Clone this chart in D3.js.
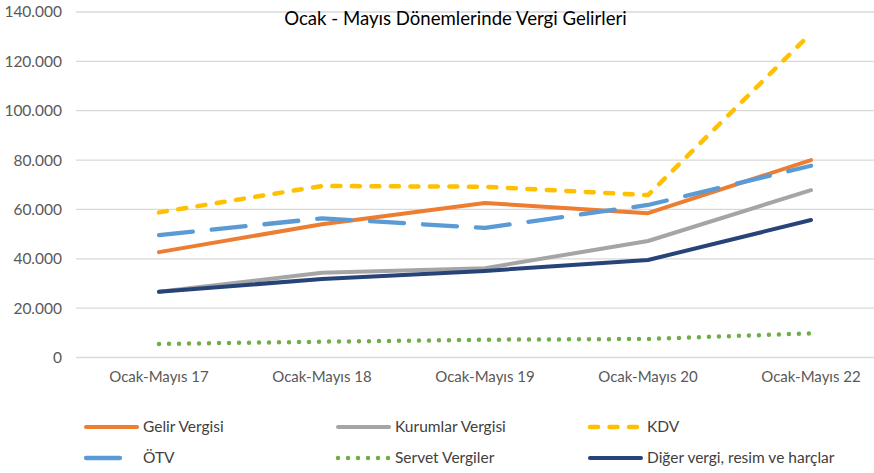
<!DOCTYPE html>
<html>
<head>
<meta charset="utf-8">
<script src="https://cdn.jsdelivr.net/npm/d3@7"></script>
<style>
  html, body { margin: 0; padding: 0; background: #fff; }
  svg { display: block; }
  text { font-family: Lato, "Open Sans", sans-serif; }
</style>
</head>
<body>
<svg id="chart" width="874" height="473"></svg>
<script>
const title = "Ocak - Mayıs Dönemlerinde Vergi Gelirleri";
const categories = ["Ocak-Mayıs 17", "Ocak-Mayıs 18", "Ocak-Mayıs 19", "Ocak-Mayıs 20", "Ocak-Mayıs 22"];
const yTicks = [0, 20000, 40000, 60000, 80000, 100000, 120000, 140000];

const gelirVergisi    = [42700, 54000, 62600, 58500, 80000];
const kurumlarVergisi = [26600, 34300, 36200, 47200, 67800];
const kdv             = [58800, 69500, 69200, 65800, 131400];
const otv             = [49600, 56400, 52500, 61800, 77700];
const servetVergiler  = [5500, 6400, 7200, 7500, 9800];
const digerVergi      = [26600, 31800, 35100, 39500, 55700];

const seriesNames  = ["Gelir Vergisi", "Kurumlar Vergisi", "KDV", "ÖTV", "Servet Vergiler", "Diğer vergi, resim ve harçlar"];
const seriesValues = [gelirVergisi, kurumlarVergisi, kdv, otv, servetVergiler, digerVergi];
const seriesColors = ["#ED7D31", "#A5A5A5", "#FFC000", "#5B9BD5", "#70AD47", "#264478"];
const seriesDash   = [null, null, "8,11.5", "34,19", "0,10", null];
const seriesWidth  = [4, 4, 4.5, 4.3, 4.5, 4];
const drawOrder = [0, 1, 2, 3, 4, 5];

const svg = d3.select("#chart");

const x = d3.scaleBand().domain(categories).range([77.5, 892.5]).padding(0);
const y = d3.scaleLinear().domain([0, 140000]).range([357.5, 12]);
const cx = c => x(c) + x.bandwidth() / 2;

// gridlines
svg.append("g").selectAll("line").data(yTicks).join("line")
  .attr("x1", 76).attr("x2", 874)
  .attr("y1", d => y(d)).attr("y2", d => y(d))
  .attr("stroke", "#D9D9D9").attr("stroke-width", 1.3);

// y axis labels
const fmt = d => d === 0 ? "0" : d3.format(",")(d).replace(/,/g, ".");
const yAxis = d3.axisLeft(y).tickValues(yTicks).tickFormat(fmt).tickSize(0).tickPadding(0);
const gy = svg.append("g").attr("transform", "translate(62,0)").call(yAxis);
gy.select(".domain").remove();
gy.selectAll("text").attr("fill", "#595959").style("font-size", "15.5px").style("font-family", "Lato, sans-serif");

// x axis labels
const xAxis = d3.axisBottom(x).tickSize(0).tickPadding(0);
const gx = svg.append("g").attr("transform", "translate(0,371)").call(xAxis);
gx.select(".domain").remove();
gx.selectAll("text").attr("fill", "#595959").style("font-size", "15px").style("font-family", "Lato, sans-serif");

// title
svg.append("text").attr("x", 455.5).attr("y", 25).attr("text-anchor", "middle")
  .attr("fill", "#000").style("font-size", "18.6px").text(title);

// lines
const line = d3.line().x((d, i) => cx(categories[i])).y(d => y(d));
drawOrder.forEach(i => {
  svg.append("path")
    .datum(seriesValues[i])
    .attr("d", line)
    .attr("fill", "none")
    .attr("stroke", seriesColors[i])
    .attr("stroke-width", seriesWidth[i])
    .attr("stroke-linecap", "round")
    .attr("stroke-linejoin", "round")
    .attr("stroke-dasharray", seriesDash[i]);
});

// legend
const legX = [86, 338, 590];
const legY = [427, 458];
const leg = svg.append("g");
seriesNames.forEach((name, i) => {
  const col = i % 3, row = Math.floor(i / 3);
  const lx = legX[col], ly = legY[row];
  leg.append("line")
    .attr("x1", lx).attr("x2", lx + (seriesDash[i] === "34,19" ? 36 : 51))
    .attr("y1", ly).attr("y2", ly)
    .attr("stroke", seriesColors[i])
    .attr("stroke-width", seriesWidth[i])
    .attr("stroke-linecap", "round")
    .attr("stroke-dasharray", seriesDash[i]);
  leg.append("text")
    .attr("x", i === 3 ? 143 : lx + 57).attr("y", ly).attr("dy", "0.35em")
    .attr("fill", "#404040").style("font-size", "15.5px").text(name);
});
</script>
</body>
</html>
